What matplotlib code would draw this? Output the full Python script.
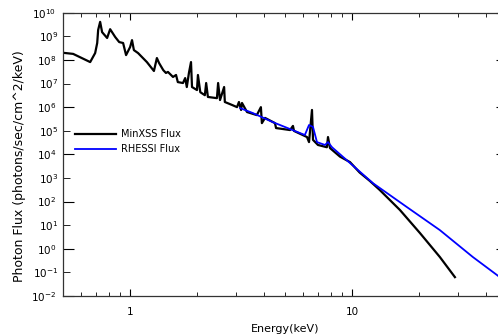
import matplotlib
matplotlib.use("Agg")
import matplotlib.pyplot as plt

# MinXSS spectrum (keV, photons/sec/cm^2/keV)
minxss_E = [0.50, 0.554, 0.661, 0.696, 0.711, 0.718, 0.733, 0.748, 0.788, 0.813,
            0.857, 0.893, 0.930, 0.959, 1.0, 1.02, 1.04, 1.086, 1.19, 1.28,
            1.32, 1.35, 1.41, 1.45, 1.48, 1.56, 1.61, 1.64, 1.73, 1.77,
            1.80, 1.84, 1.88, 1.90, 2.00, 2.02, 2.07, 2.17, 2.20, 2.24,
            2.46, 2.49, 2.54, 2.65, 2.67, 2.88, 3.03, 3.09, 3.16, 3.19,
            3.36, 3.72, 3.88, 3.92, 4.05, 4.49, 4.54, 5.25, 5.41, 5.47,
            6.26, 6.39, 6.59, 6.66, 7.01, 7.69, 7.78, 7.94, 8.81, 9.77,
            10.8, 12.0, 13.3, 16.4, 20.2, 24.8, 29.0]
minxss_F = [2.0e8, 1.8e8, 8.1e7, 1.95e8, 5.2e8, 1.85e9, 4.1e9, 1.5e9, 8.5e8, 2.0e9,
            9.3e8, 5.7e8, 5.2e8, 1.6e8, 3.5e8, 6.9e8, 2.6e8, 1.95e8, 8.1e7, 3.4e7,
            1.2e8, 7.4e7, 3.7e7, 2.8e7, 3.1e7, 1.9e7, 2.3e7, 1.15e7, 1.05e7, 1.7e7,
            7.1e6, 2.8e7, 8.1e7, 7.1e6, 5.3e6, 2.3e7, 4.3e6, 3.2e6, 1.05e7, 2.7e6,
            2.4e6, 1.05e7, 2.0e6, 7.1e6, 1.65e6, 1.23e6, 1.0e6, 1.65e6, 7.6e5, 1.5e6,
            6.2e5, 4.6e5, 1.0e6, 2.1e5, 3.5e5, 2.1e5, 1.3e5, 1.07e5, 1.6e5, 9.8e4,
            5.4e4, 3.3e4, 7.6e5, 4.1e4, 2.5e4, 2.0e4, 5.4e4, 1.85e4, 8.0e3, 4.7e3,
            1.7e3, 7.5e2, 3.1e2, 44, 4.6, 0.45, 0.063]

# RHESSI model flux
rhessi_E = [3.13, 3.57, 4.40, 6.12, 6.39, 6.66, 6.94, 7.54, 7.78, 8.11,
            9.77, 12.4, 17.6, 24.8, 34.9, 44.8, 50.0]
rhessi_F = [9.1e5, 5.6e5, 2.3e5, 6.6e4, 1.75e5, 1.45e5, 3.3e4, 2.5e4, 3.3e4, 2.0e4,
            4.3e3, 6.0e2, 59, 6.2, 0.45, 0.078, 0.035]

fig = plt.figure(figsize=(4.98, 3.35), dpi=100)
ax = fig.add_axes([0.127, 0.1164, 0.892, 0.8457])

ax.plot(minxss_E, minxss_F, color="black", lw=1.6, label="MinXSS Flux")
ax.plot(rhessi_E, rhessi_F, color="#0000ff", lw=1.3, label="RHESSI Flux")

ax.set_xscale("log")
ax.set_yscale("log")
ax.set_xlim(0.5, 50)
ax.set_ylim(1e-2, 1e10)

ax.set_xticks([1, 10])
ax.set_xticklabels(["1", "10"])
ax.set_xticks([0.6, 0.7, 0.8, 0.9, 2, 3, 4, 5, 6, 7, 8, 9, 20, 30, 40], minor=True)
ax.set_yticks([10.0 ** p for p in range(-2, 11, 2)])
ax.set_yticks([10.0 ** p for p in range(-1, 10, 2)], minor=True)

ax.tick_params(axis="both", which="both", direction="in", labelsize=7.5, top=True, right=True)
ax.tick_params(axis="x", which="major", length=5, pad=8)
ax.tick_params(axis="x", which="minor", length=3)
ax.tick_params(axis="y", which="major", length=8, pad=5)
ax.tick_params(axis="y", which="minor", length=5)
for s in ax.spines.values():
    s.set_linewidth(0.9)
    s.set_color("#333333")

ax.set_xlabel("Energy(keV)", fontsize=8, labelpad=5)
fig.text(0.04, 1 - 166 / 335, "Photon Flux (photons/sec/cm^2/keV)", rotation=90,
         fontsize=9, ha="center", va="center")

ax.legend(loc="upper left", bbox_to_anchor=(0.027, 0.588), frameon=False, fontsize=7,
          handlelength=4.2, handletextpad=0.5, borderpad=0, borderaxespad=0,
          labelspacing=0.5)

fig.savefig("out.png", dpi=100)
